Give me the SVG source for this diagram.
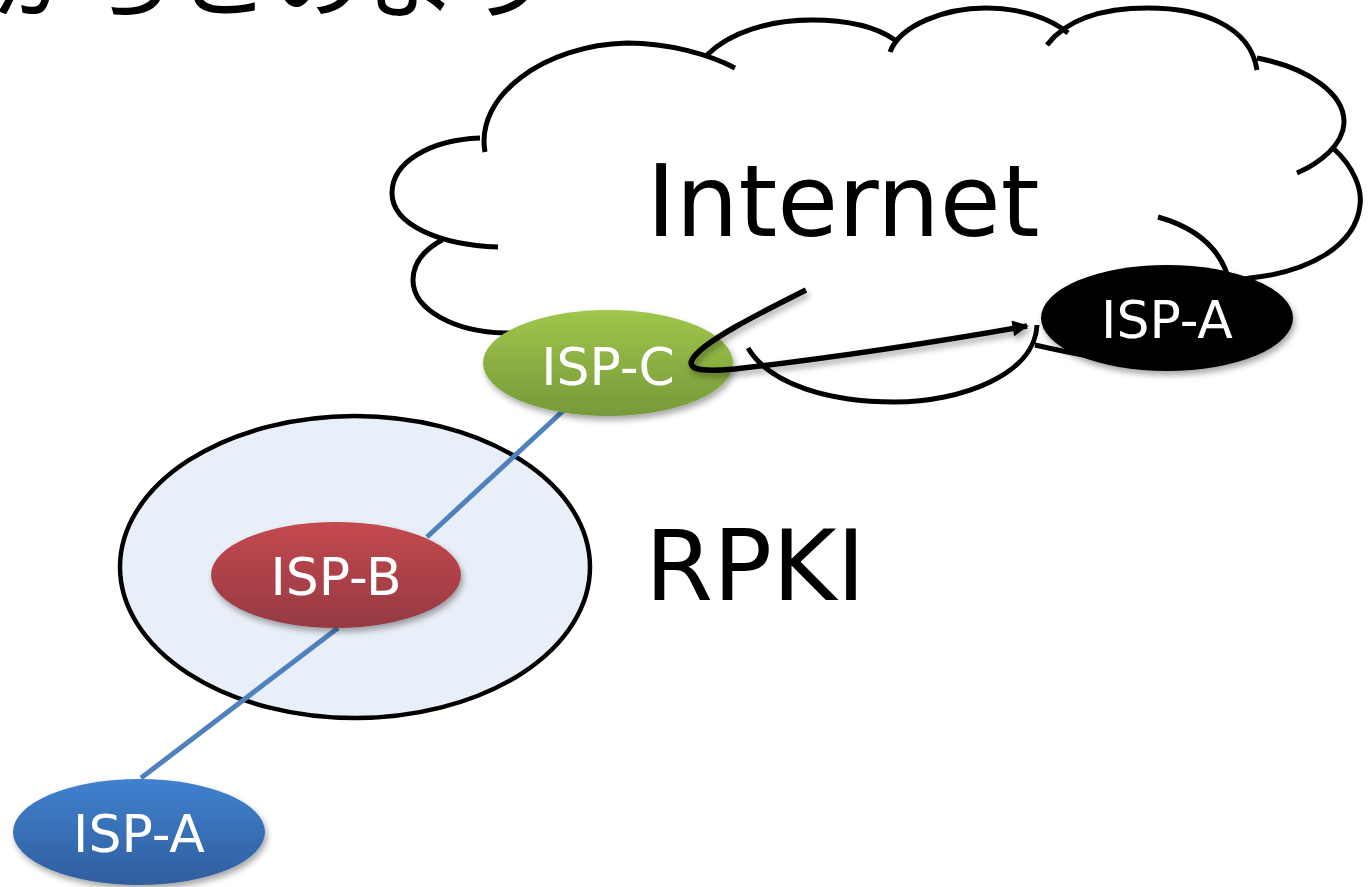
<svg xmlns="http://www.w3.org/2000/svg" width="1369" height="887" viewBox="0 0 1369 887">
<defs>
<style>
.cloud{fill:none;stroke:#000;stroke-width:5;stroke-linecap:butt}
.lbl{font-family:"DejaVu Sans",Verdana,sans-serif;fill:#fff;text-anchor:middle}
.big{font-family:"DejaVu Sans",Verdana,sans-serif;fill:#000}
.link{stroke:#4F81BD;stroke-width:5;fill:none}
</style>
<linearGradient id="gGreen" x1="0" y1="0" x2="0" y2="1"><stop offset="0" stop-color="#9FC64B"/><stop offset="1" stop-color="#77993A"/></linearGradient>
<linearGradient id="gRed" x1="0" y1="0" x2="0" y2="1"><stop offset="0" stop-color="#C4494F"/><stop offset="1" stop-color="#953A42"/></linearGradient>
<linearGradient id="gBlue" x1="0" y1="0" x2="0" y2="1"><stop offset="0" stop-color="#4081CF"/><stop offset="1" stop-color="#305E9D"/></linearGradient>
<filter id="sh" x="-20%" y="-20%" width="140%" height="160%"><feDropShadow dx="2" dy="4" stdDeviation="3" flood-color="#000" flood-opacity="0.35"/></filter>
<marker id="arr" viewBox="0 0 10 10" refX="9" refY="5" markerWidth="22" markerHeight="16" markerUnits="userSpaceOnUse" orient="auto"><path d="M0,0 L10,5 L0,10 z" fill="#000"/></marker>
</defs>
<rect width="1369" height="887" fill="#fff"/>

<text x="-10" y="11" font-family="'Noto Sans CJK JP',sans-serif" font-size="92" letter-spacing="2" fill="#000">からこのよう</text>

<g id="internet">
<path class="cloud" d="M480,138 C430,140 392,162 392,193 C392,225 440,245 498,247
M442,240 C420,252 413,266 413,280 C413,310 455,332 505,333 L540,333
M485,152 C475,95 545,45 627,43 C670,43 710,55 735,68
M707,55 C730,32 770,20 812,20 C850,20 878,28 895,40
M890,52 C900,25 945,8 986,8 C1020,8 1050,18 1068,33
M1047,45 C1070,15 1110,8 1148,8 C1200,8 1250,25 1257,70
M1257,58 C1310,68 1345,95 1344,123 C1343,145 1320,163 1297,173
M1333,148 C1355,168 1362,190 1360,205 C1356,245 1310,272 1250,278 L1230,282
M1158,217 C1190,226 1222,245 1230,285
M1037,325 C1035,375 960,402 895,402 C830,402 770,385 748,348
M1035,345 Q1065,352 1100,358"/>
<text x="843" y="236" font-size="99" class="big" text-anchor="middle">Internet</text>
</g>

<g id="rpki">
<ellipse cx="355" cy="567" rx="235" ry="151" fill="#E9EFF8" stroke="#000" stroke-width="4.5"/>
<text x="645" y="600" font-size="98" class="big">RPKI</text>
</g>

<g id="connectors">
<line x1="141" y1="778" x2="338" y2="628" class="link"/>
<line x1="427" y1="537" x2="564" y2="410" class="link"/>
</g>

<g id="isp-b">
<ellipse cx="336" cy="575" rx="125" ry="53" fill="url(#gRed)" filter="url(#sh)"/>
<text x="336" y="595" font-size="52" class="lbl">ISP-B</text>
</g>

<g id="isp-a-rpki">
<ellipse cx="139" cy="832" rx="126" ry="53" fill="url(#gBlue)" filter="url(#sh)"/>
<text x="139" y="852" font-size="52" class="lbl">ISP-A</text>
</g>

<g id="isp-c">
<ellipse cx="608" cy="363" rx="125" ry="53" fill="url(#gGreen)" filter="url(#sh)"/>
<text x="608" y="385" font-size="52" class="lbl">ISP-C</text>
</g>

<g id="isp-a-internet">
<ellipse cx="1167" cy="318" rx="126" ry="53" fill="#000" filter="url(#sh)"/>
<text x="1167" y="338" font-size="52" class="lbl">ISP-A</text>
</g>

<g id="hijack-path">
<path d="M806,290 C760,313 700,343 692,360 C686,372 712,371 735,369 C830,358 930,343 1027,326" fill="none" stroke="#000" stroke-width="5.5" marker-end="url(#arr)" filter="url(#sh)"/>
</g>
</svg>
